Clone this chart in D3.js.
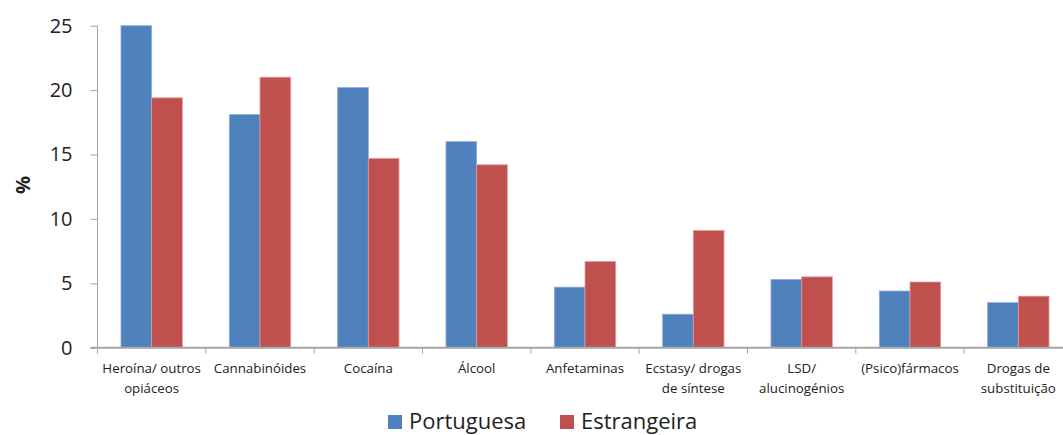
<!DOCTYPE html>
<html><head><meta charset="utf-8">
<script src="https://cdn.jsdelivr.net/npm/d3@7"></script>
<style>body{margin:0;background:#fff;} svg{display:block;font-family:"Open Sans",sans-serif;}</style>
</head><body><svg id="c" width="1063" height="435"></svg>
<script>
const categories = ["Heroína/ outros\nopiáceos","Cannabinóides","Cocaína","Álcool","Anfetaminas","Ecstasy/ drogas\nde síntese","LSD/\nalucinogénios","(Psico)fármacos","Drogas de\nsubstituição"];
const seriesNames = ["Portuguesa","Estrangeira"];
const portuguesa = [25.0,18.1,20.2,16.0,4.7,2.6,5.3,4.4,3.5];
const estrangeira = [19.4,21.0,14.7,14.2,6.7,9.1,5.5,5.1,4.0];
const yTicks = [0,5,10,15,20,25];
const colors = ["#4f81bd","#c0504d"];

const svg = d3.select("#c");
const x0 = 97.5, x1 = 1072.5, yTop = 25.7, yBot = 347.7;
const x = d3.scaleBand().domain(categories).range([x0,x1]).paddingInner(0).paddingOuter(0);
const y = d3.scaleLinear().domain([0,25]).range([yBot,yTop]);
const inner = d3.scaleBand().domain(seriesNames).range([0,x.bandwidth()]).paddingInner(0).paddingOuter(0.765);

const data = categories.map((c,i)=>({c, vals:[portuguesa[i],estrangeira[i]]}));
const g = svg.append("g");
g.selectAll("g.cat").data(data).join("g").attr("class","cat")
 .attr("transform",d=>`translate(${x(d.c)},0)`)
 .selectAll("rect").data(d=>d.vals.map((v,k)=>({v,k})))
 .join("rect")
 .attr("x",d=>inner(seriesNames[d.k]))
 .attr("width",inner.bandwidth())
 .attr("y",d=>y(d.v))
 .attr("height",d=>yBot-y(d.v))
 .attr("fill",d=>colors[d.k])
 .attr("stroke",d=>d.k===0?"#8fb0dc":"#e39c9a")
 .attr("stroke-width",0.8);

// y axis
const yAxis = d3.axisLeft(y).tickValues(yTicks).tickSize(7).tickPadding(18);
const ya = svg.append("g").attr("transform",`translate(${x0},0)`).call(yAxis);
ya.select(".domain").attr("stroke","#a6a6a6").attr("d",`M0,${yTop}V${yBot}`);
ya.selectAll(".tick line").attr("stroke","#a6a6a6");
ya.selectAll(".tick text").attr("font-size",20).attr("fill","#222").attr("font-family","Open Sans");

// x axis
const xa = svg.append("g").attr("transform",`translate(0,${yBot})`);
xa.append("line").attr("x1",x0-7).attr("x2",1063).attr("stroke","#a6a6a6").attr("stroke-width",2);
const bounds = categories.map(c=>x(c)).concat([x1]);
xa.selectAll("line.t").data(bounds).join("line").attr("class","t")
  .attr("x1",d=>d).attr("x2",d=>d).attr("y1",0).attr("y2",6).attr("stroke","#a6a6a6");
const labs = xa.selectAll("text.cl").data(categories).join("text").attr("class","cl")
  .attr("x",d=>x(d)+x.bandwidth()/2).attr("y",25)
  .attr("text-anchor","middle").attr("font-size",13.3).attr("fill","#222");
labs.each(function(d){
  const t = d3.select(this);
  d.split("\n").forEach((line,i)=>{
    t.append("tspan").attr("x",x(d)+x.bandwidth()/2).attr("dy",i===0?0:20).text(line);
  });
});

// y title
svg.append("text").attr("transform","translate(30,185) rotate(-90)")
  .attr("text-anchor","middle").attr("font-weight","bold").attr("font-size",20).attr("fill","#222").text("%");

// legend
const legX = [388,560];
const lg = svg.append("g").selectAll("g").data(seriesNames).join("g")
  .attr("transform",(d,i)=>`translate(${legX[i]},415)`);
lg.append("rect").attr("width",14).attr("height",14).attr("fill",(d,i)=>colors[i]);
lg.append("text").attr("x",21).attr("y",14).attr("font-size",22).attr("fill","#222").text(d=>d);
</script></body></html>
